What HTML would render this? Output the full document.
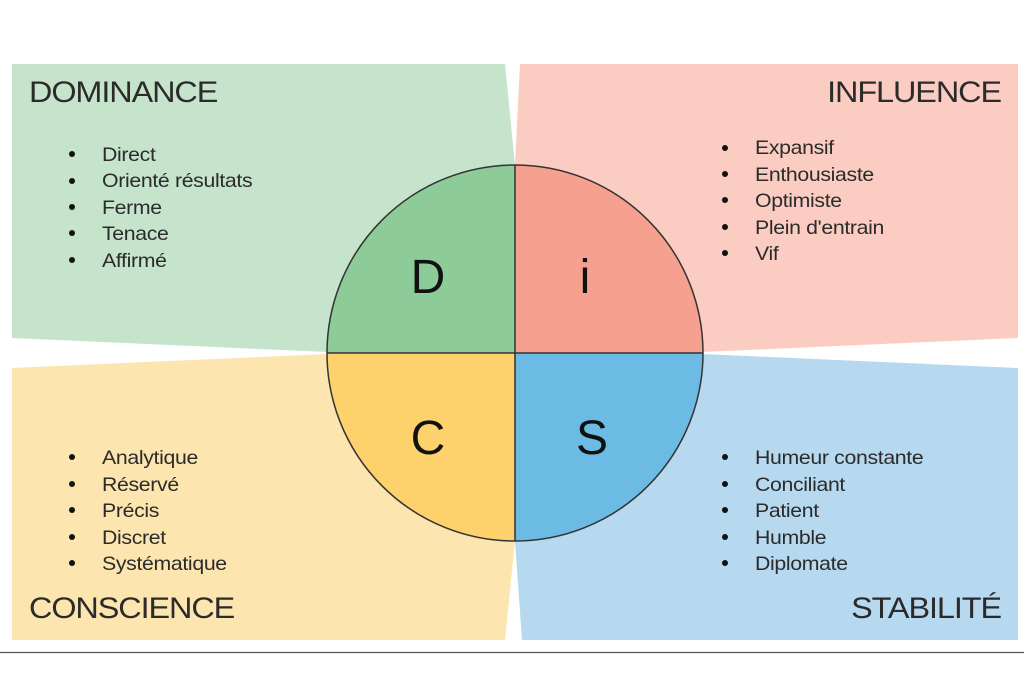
<!DOCTYPE html>
<html><head><meta charset="utf-8"><style>
html,body{margin:0;padding:0;background:#fff;}
svg{display:block;}
text{font-family:"Liberation Sans",Arial,sans-serif;fill:#2b2b2b;}
.t{font-size:30px;letter-spacing:-1px;}
.i{font-size:19px;letter-spacing:-0.3px;}
.L{font-size:48px;fill:#111;}
</style></head><body>
<svg width="1024" height="683" viewBox="0 0 1024 683" xmlns="http://www.w3.org/2000/svg">
<polygon points="12,64 505,64 515,165 328,352 12,338" fill="#c5e4cb"/>
<polygon points="520,64 1018,64 1018,338 702,352 515,165" fill="#fbcdc2"/>
<polygon points="12,368 328,354 515,541 505,640 12,640" fill="#fce5ae"/>
<polygon points="702,354 1018,368 1018,640 522,640 515,541" fill="#b7d9ef"/>
<path d="M515,353 L327,353 A188,188 0 0 1 515,165 Z" fill="#8dcb98"/>
<path d="M515,353 L515,165 A188,188 0 0 1 703,353 Z" fill="#f6a08f"/>
<path d="M515,353 L327,353 A188,188 0 0 0 515,541 Z" fill="#fdd16b"/>
<path d="M515,353 L515,541 A188,188 0 0 0 703,353 Z" fill="#6bbbe4"/>
<circle cx="515" cy="353" r="188" fill="none" stroke="#333" stroke-width="1.5"/>
<line x1="515" y1="165" x2="515" y2="541" stroke="#333" stroke-width="1.5"/>
<line x1="327" y1="353" x2="703" y2="353" stroke="#333" stroke-width="1.5"/>
<text class="L" x="428" y="293" text-anchor="middle">D</text>
<text class="L" x="585" y="293" text-anchor="middle">i</text>
<text class="L" x="428" y="454" text-anchor="middle">C</text>
<text class="L" x="592" y="454" text-anchor="middle">S</text>
<g transform="translate(29,0) scale(1.08,1)"><text class="t" x="0" y="102">DOMINANCE</text><text class="t" x="0" y="618">CONSCIENCE</text></g>
<g transform="translate(1001,0) scale(1.08,1)"><text class="t" x="0" y="102" text-anchor="end">INFLUENCE</text><text class="t" x="0" y="618" text-anchor="end">STABILITÉ</text></g>
<g fill="#111">
<circle cx="72" cy="154" r="3"/><circle cx="72" cy="181" r="3"/><circle cx="72" cy="207" r="3"/><circle cx="72" cy="233" r="3"/><circle cx="72" cy="260" r="3"/>
<circle cx="725" cy="148" r="3"/><circle cx="725" cy="174" r="3"/><circle cx="725" cy="200" r="3"/><circle cx="725" cy="227" r="3"/><circle cx="725" cy="253" r="3"/>
<circle cx="72" cy="457" r="3"/><circle cx="72" cy="484" r="3"/><circle cx="72" cy="510" r="3"/><circle cx="72" cy="537" r="3"/><circle cx="72" cy="563" r="3"/>
<circle cx="725" cy="457" r="3"/><circle cx="725" cy="484" r="3"/><circle cx="725" cy="510" r="3"/><circle cx="725" cy="537" r="3"/><circle cx="725" cy="563" r="3"/>
</g>
<g transform="translate(102,0) scale(1.12,1)">
<text class="i" x="0" y="161">Direct</text>
<text class="i" x="0" y="187">Orienté résultats</text>
<text class="i" x="0" y="214">Ferme</text>
<text class="i" x="0" y="240">Tenace</text>
<text class="i" x="0" y="267">Affirmé</text>
<text class="i" x="0" y="464">Analytique</text>
<text class="i" x="0" y="491">Réservé</text>
<text class="i" x="0" y="517">Précis</text>
<text class="i" x="0" y="544">Discret</text>
<text class="i" x="0" y="570">Systématique</text>
</g>
<g transform="translate(755,0) scale(1.12,1)">
<text class="i" x="0" y="154">Expansif</text>
<text class="i" x="0" y="181">Enthousiaste</text>
<text class="i" x="0" y="207">Optimiste</text>
<text class="i" x="0" y="234">Plein d'entrain</text>
<text class="i" x="0" y="260">Vif</text>
<text class="i" x="0" y="464">Humeur constante</text>
<text class="i" x="0" y="491">Conciliant</text>
<text class="i" x="0" y="517">Patient</text>
<text class="i" x="0" y="544">Humble</text>
<text class="i" x="0" y="570">Diplomate</text>
</g>
<line x1="0" y1="652.5" x2="1024" y2="652.5" stroke="#555" stroke-width="1.2"/>
</svg>
</body></html>
